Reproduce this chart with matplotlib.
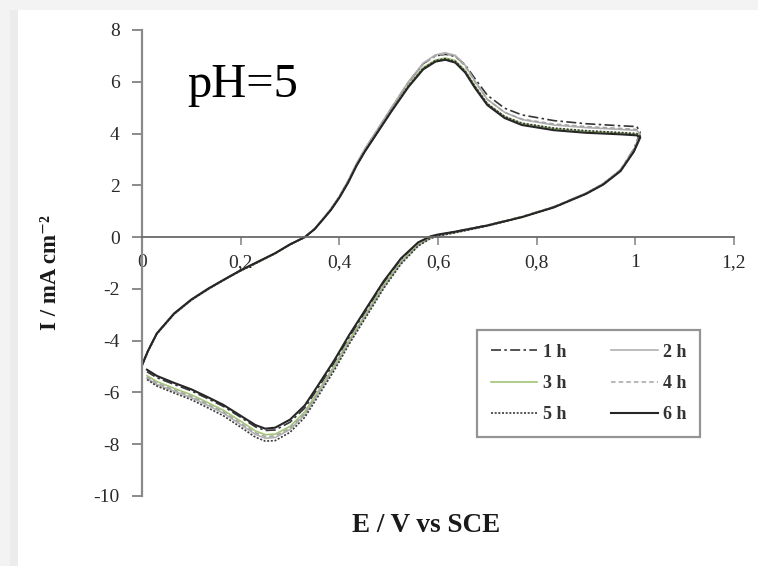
import matplotlib
matplotlib.use("Agg")
import matplotlib.pyplot as plt
from matplotlib.patches import Rectangle

plt.rcParams["axes.unicode_minus"] = False

# Potential sweep: forward scan 0 -> 1.01 V, then reverse back to 0.01 V
potential = [0.000, 0.012, 0.030, 0.065, 0.100, 0.135, 0.170, 0.200, 0.235, 0.270,
             0.300, 0.330, 0.350, 0.365, 0.383, 0.400, 0.418, 0.435, 0.452, 0.470,
             0.505, 0.540, 0.570, 0.595, 0.615, 0.635, 0.655, 0.675, 0.700, 0.735,
             0.770, 0.835, 0.900, 0.970, 1.003, 1.010,
             0.997, 0.970, 0.935, 0.900, 0.835, 0.770, 0.700, 0.635, 0.600, 0.585,
             0.560, 0.525, 0.490, 0.455, 0.420, 0.390, 0.355, 0.330, 0.300, 0.270,
             0.250, 0.230, 0.200, 0.165, 0.130, 0.100, 0.065, 0.030, 0.010]

# Current density (mA cm-2) for each immersion time: anodic scan + cathodic scan
i_1h = [-4.93, -4.39, -3.72, -2.96, -2.42, -1.99, -1.61, -1.30, -0.97, -0.63,
        -0.29, 0.00, 0.32, 0.66, 1.08, 1.56, 2.17, 2.82, 3.39, 3.92,
        4.96, 5.98, 6.70, 7.00, 7.06, 6.98, 6.66, 6.12, 5.48, 4.98,
        4.72, 4.50, 4.38, 4.30, 4.27, 4.05] + \
       [3.40, 2.60, 2.06, 1.69, 1.17, 0.79, 0.46, 0.21, 0.08, 0.00,
        -0.24, -0.88, -1.78, -2.83, -3.88, -4.85, -5.88, -6.60, -7.15, -7.45,
        -7.47, -7.33, -6.96, -6.54, -6.21, -5.94, -5.69, -5.43, -5.20]
i_2h = [-4.97, -4.42, -3.75, -2.98, -2.44, -2.01, -1.62, -1.30, -0.97, -0.63,
        -0.29, -0.01, 0.32, 0.67, 1.10, 1.58, 2.19, 2.85, 3.42, 3.95,
        4.98, 6.00, 6.72, 7.04, 7.12, 7.02, 6.64, 6.02, 5.32, 4.82,
        4.54, 4.33, 4.23, 4.16, 4.12, 3.98] + \
       [3.38, 2.60, 2.07, 1.70, 1.17, 0.78, 0.44, 0.18, 0.05, -0.04,
        -0.32, -1.00, -1.93, -3.00, -4.06, -5.06, -6.12, -6.86, -7.43, -7.74,
        -7.77, -7.62, -7.24, -6.80, -6.47, -6.20, -5.95, -5.69, -5.45]
i_3h = [-4.95, -4.40, -3.73, -2.96, -2.42, -1.99, -1.60, -1.29, -0.96, -0.62,
        -0.28, 0.00, 0.32, 0.65, 1.07, 1.54, 2.14, 2.79, 3.34, 3.86,
        4.87, 5.86, 6.55, 6.84, 6.92, 6.82, 6.44, 5.84, 5.16, 4.66,
        4.39, 4.19, 4.09, 4.02, 3.98, 3.90] + \
       [3.33, 2.57, 2.04, 1.68, 1.16, 0.78, 0.45, 0.19, 0.07, -0.01,
        -0.27, -0.94, -1.85, -2.92, -3.97, -4.96, -6.01, -6.75, -7.31, -7.61,
        -7.63, -7.49, -7.11, -6.69, -6.36, -6.09, -5.84, -5.58, -5.35]
i_4h = [-4.96, -4.41, -3.74, -2.97, -2.43, -2.00, -1.61, -1.30, -0.97, -0.63,
        -0.29, 0.00, 0.32, 0.67, 1.09, 1.57, 2.18, 2.83, 3.39, 3.92,
        4.95, 5.96, 6.68, 7.00, 7.07, 6.98, 6.60, 6.00, 5.32, 4.82,
        4.56, 4.37, 4.27, 4.20, 4.16, 4.00] + \
       [3.36, 2.59, 2.06, 1.69, 1.17, 0.78, 0.44, 0.18, 0.06, -0.02,
        -0.29, -0.97, -1.89, -2.96, -4.02, -5.01, -6.07, -6.81, -7.38, -7.68,
        -7.70, -7.56, -7.18, -6.75, -6.42, -6.15, -5.90, -5.64, -5.40]
i_5h = [-4.96, -4.41, -3.74, -2.97, -2.43, -2.00, -1.61, -1.30, -0.97, -0.63,
        -0.29, -0.01, 0.31, 0.65, 1.06, 1.53, 2.12, 2.78, 3.33, 3.85,
        4.86, 5.84, 6.52, 6.82, 6.89, 6.79, 6.41, 5.82, 5.15, 4.66,
        4.40, 4.21, 4.11, 4.04, 4.00, 3.90] + \
       [3.32, 2.56, 2.04, 1.67, 1.15, 0.77, 0.43, 0.17, 0.04, -0.05,
        -0.34, -1.04, -1.98, -3.06, -4.13, -5.14, -6.21, -6.96, -7.54, -7.86,
        -7.88, -7.73, -7.34, -6.90, -6.56, -6.28, -6.02, -5.75, -5.50]
i_6h = [-4.95, -4.40, -3.72, -2.95, -2.41, -1.98, -1.60, -1.28, -0.95, -0.62,
        -0.28, 0.00, 0.31, 0.64, 1.05, 1.52, 2.11, 2.76, 3.31, 3.83,
        4.84, 5.80, 6.48, 6.78, 6.85, 6.74, 6.36, 5.76, 5.10, 4.60,
        4.33, 4.13, 4.03, 3.97, 3.93, 3.85] + \
       [3.30, 2.55, 2.03, 1.67, 1.15, 0.77, 0.45, 0.21, 0.10, 0.03,
        -0.20, -0.82, -1.70, -2.74, -3.78, -4.75, -5.78, -6.50, -7.05, -7.36,
        -7.40, -7.26, -6.90, -6.48, -6.15, -5.88, -5.63, -5.36, -5.12]

labels = ["1 h", "2 h", "3 h", "4 h", "5 h", "6 h"]
currents = [i_1h, i_2h, i_3h, i_4h, i_5h, i_6h]
colors = ["#363636", "#b0b0b0", "#a2c676", "#a4a4a4", "#3a3a3a", "#262626"]
styles = [(0, (6, 2, 1.5, 2)), "-", "-", (0, (3, 2)), (0, (1.2, 1)), "-"]
widths = [1.2, 1.2, 1.2, 1.1, 1.2, 1.5]

x_ticks = [0, 0.2, 0.4, 0.6, 0.8, 1.0, 1.2]
x_ticklabels = ["0", "0,2", "0,4", "0,6", "0,8", "1", "1,2"]
y_ticks = [-10, -8, -6, -4, -2, 0, 2, 4, 6, 8]

W, H = 758, 566
fig = plt.figure(figsize=(W / 100, H / 100), dpi=100)
fig.patch.set_facecolor("#f3f3f3")
fig.add_artist(Rectangle((10 / W, 0), 8 / W, 1 - 10 / H, transform=fig.transFigure,
                         facecolor="#ececec", edgecolor="none", zorder=0))
fig.add_artist(Rectangle((18 / W, 0), 1, 1 - 10 / H, transform=fig.transFigure,
                         facecolor="white", edgecolor="none", zorder=0))

ax = fig.add_axes([142 / W, 1 - 496 / H, (734 - 142) / W, (496 - 30) / H])
ax.set_facecolor("none")

serif = ["Liberation Serif", "DejaVu Serif"]

handles = []
for lab, cur, col, ls, lw in zip(labels, currents, colors, styles, widths):
    h, = ax.plot(potential, cur, color=col, linestyle=ls, linewidth=lw, label=lab)
    handles.append(h)

ax.set_xlim(0, 1.2)
ax.set_ylim(-10, 8)
ax.set_xticks(x_ticks)
ax.set_xticklabels(x_ticklabels)
ax.set_yticks(y_ticks)

for side in ("top", "right"):
    ax.spines[side].set_visible(False)
ax.spines["left"].set_color("#8a8a8a")
ax.spines["left"].set_linewidth(1.6)
ax.spines["bottom"].set_position(("data", 0))
ax.spines["bottom"].set_color("#6a6a6a")
ax.spines["bottom"].set_linewidth(1.3)

ax.tick_params(axis="y", direction="out", length=7, width=1.4, color="#8a8a8a",
               pad=9, labelsize=14, labelcolor="#2a2a2a")
ax.tick_params(axis="x", direction="out", length=6, width=1.2, color="#8a8a8a",
               pad=6, labelsize=14, labelcolor="#2a2a2a")
for t in ax.get_xticklabels() + ax.get_yticklabels():
    t.set_fontfamily(serif)

ax.text(0.092, 5.4, "pH=5", fontsize=35, family=serif, color="black",
        ha="left", va="baseline")

fig.text(426 / W, 1 - 525 / H, "E / V vs SCE", fontsize=19.5, fontweight="bold",
         family=serif, ha="center", va="center", color="#1a1a1a")
fig.text(51 / W, 1 - 273 / H, "I / mA cm\u207b\u00b2", fontsize=16.5,
         fontweight="bold", family=serif, rotation=90, ha="center", va="center",
         color="#1a1a1a")

# legend filled row by row: 1 h | 2 h, 3 h | 4 h, 5 h | 6 h
order = [0, 2, 4, 1, 3, 5]
leg = ax.legend([handles[k] for k in order], [labels[k] for k in order], ncol=2,
                loc="upper left", bbox_to_anchor=(477 / W, 1 - 330 / H),
                bbox_transform=fig.transFigure, borderaxespad=0,
                frameon=True, fancybox=False, edgecolor="#7a7a7a",
                prop={"family": serif, "size": 13, "weight": "bold"},
                handlelength=2.6, handletextpad=0.28, columnspacing=2.5,
                labelspacing=0.8, borderpad=0.75)
leg.get_frame().set_linewidth(1.6)
for txt in leg.get_texts():
    txt.set_color("#333333")

fig.savefig("out.png", dpi=100, facecolor=fig.get_facecolor())
